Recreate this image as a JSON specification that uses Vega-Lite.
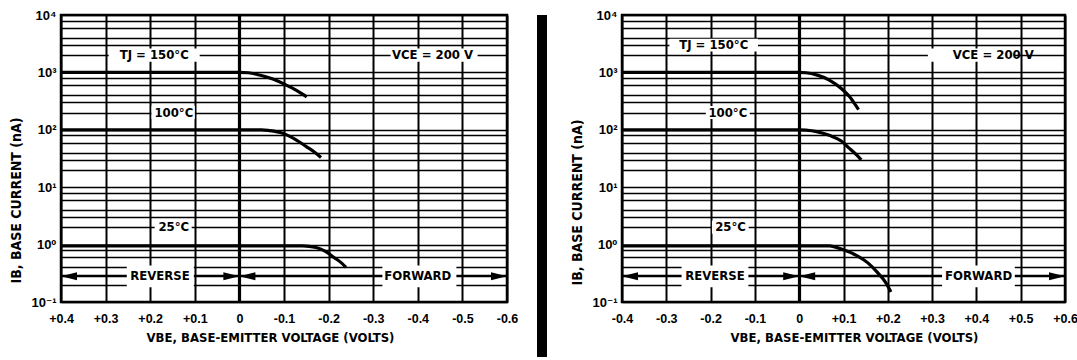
{
  "$schema": "https://vega.github.io/schema/vega-lite/v6.json",
  "padding": {"left": 7, "top": 7, "right": 0, "bottom": 0},
  "background": "white",
  "datasets": {
    "leftCurves": [
      {"s":"150","v":0.4,"i":1000},{"s":"150","v":0.2,"i":1000},{"s":"150","v":0,"i":1000},{"s":"150","v":-0.02,"i":985},{"s":"150","v":-0.045,"i":900},{"s":"150","v":-0.075,"i":765},{"s":"150","v":-0.105,"i":600},{"s":"150","v":-0.127,"i":490},{"s":"150","v":-0.151,"i":375},
      {"s":"100","v":0.4,"i":100},{"s":"100","v":0,"i":100},{"s":"100","v":-0.05,"i":100},{"s":"100","v":-0.067,"i":97},{"s":"100","v":-0.097,"i":87},{"s":"100","v":-0.127,"i":67},{"s":"100","v":-0.15,"i":51},{"s":"100","v":-0.168,"i":41},{"s":"100","v":-0.183,"i":33},
      {"s":"25","v":0.4,"i":0.95},{"s":"25","v":0,"i":0.95},{"s":"25","v":-0.142,"i":0.95},{"s":"25","v":-0.172,"i":0.89},{"s":"25","v":-0.194,"i":0.755},{"s":"25","v":-0.213,"i":0.59},{"s":"25","v":-0.228,"i":0.485},{"s":"25","v":-0.239,"i":0.4}
    ],
    "rightCurves": [
      {"s":"150","v":-0.4,"i":1000},{"s":"150","v":0,"i":1000},{"s":"150","v":0.015,"i":985},{"s":"150","v":0.039,"i":905},{"s":"150","v":0.068,"i":735},{"s":"150","v":0.095,"i":525},{"s":"150","v":0.114,"i":375},{"s":"150","v":0.125,"i":285},{"s":"150","v":0.134,"i":225},
      {"s":"100","v":-0.4,"i":100},{"s":"100","v":0,"i":100},{"s":"100","v":0.015,"i":98.5},{"s":"100","v":0.039,"i":93},{"s":"100","v":0.068,"i":80},{"s":"100","v":0.095,"i":64},{"s":"100","v":0.114,"i":47},{"s":"100","v":0.129,"i":37},{"s":"100","v":0.14,"i":30},
      {"s":"25","v":-0.4,"i":0.95},{"s":"25","v":0,"i":0.95},{"s":"25","v":0.068,"i":0.95},{"s":"25","v":0.098,"i":0.82},{"s":"25","v":0.129,"i":0.65},{"s":"25","v":0.155,"i":0.48},{"s":"25","v":0.177,"i":0.325},{"s":"25","v":0.195,"i":0.22},{"s":"25","v":0.207,"i":0.15}
    ],
    "leftLabels": [
      {"t":"TJ = 150°C","v":0.191,"i":2000,"x1":0.293,"x2":0.089,"y1":1540,"y2":2600},
      {"t":"VCE = 200 V","v":-0.433,"i":2000,"x1":-0.339,"x2":-0.534,"y1":1540,"y2":2600},
      {"t":"100°C","v":0.147,"i":200,"x1":0.197,"x2":0.1,"y1":154,"y2":260},
      {"t":"25°C","v":0.147,"i":2,"x1":0.19,"x2":0.107,"y1":1.54,"y2":2.6},
      {"t":"REVERSE","v":0.178,"i":0.28,"x1":0.2525,"x2":0.1022,"y1":0.18,"y2":0.434},
      {"t":"FORWARD","v":-0.4,"i":0.28,"x1":-0.3206,"x2":-0.4865,"y1":0.18,"y2":0.434}
    ],
    "rightLabels": [
      {"t":"TJ = 150°C","v":-0.193,"i":3000,"x1":-0.293,"x2":-0.093,"y1":2310,"y2":3850},
      {"t":"VCE = 200 V","v":0.438,"i":2000,"x1":0.2905,"x2":0.4855,"y1":1540,"y2":2600},
      {"t":"100°C","v":-0.161,"i":200,"x1":-0.2108,"x2":-0.1117,"y1":154,"y2":260},
      {"t":"25°C","v":-0.155,"i":2,"x1":-0.197,"x2":-0.114,"y1":1.54,"y2":2.6},
      {"t":"REVERSE","v":-0.19,"i":0.28,"x1":-0.2656,"x2":-0.1147,"y1":0.18,"y2":0.434},
      {"t":"FORWARD","v":0.405,"i":0.28,"x1":0.3225,"x2":0.4867,"y1":0.18,"y2":0.434}
    ],
    "leftArrowLines": [
      {"v":0.4,"v2":0,"i":0.28},{"v":0,"v2":-0.6,"i":0.28}
    ],
    "rightArrowLines": [
      {"v":-0.4,"v2":0,"i":0.28},{"v":0,"v2":0.6,"i":0.28}
    ],
    "leftHeads": [
      {"v":0.4,"i":0.28,"dir":"L"},{"v":0,"i":0.28,"dir":"R"},{"v":0,"i":0.28,"dir":"L"},{"v":-0.6,"i":0.28,"dir":"R"}
    ],
    "rightHeads": [
      {"v":-0.4,"i":0.28,"dir":"L"},{"v":0,"i":0.28,"dir":"R"},{"v":0,"i":0.28,"dir":"L"},{"v":0.6,"i":0.28,"dir":"R"}
    ]
  },
  "spacing": 17,
  "hconcat": [
    {
      "width": 446,
      "height": 287,
      "encoding": {
        "x": {"field":"v","type":"quantitative",
          "scale":{"domain":[-0.6,0.4],"reverse":true,"nice":false,"zero":false},
          "axis":{"title":"VBE, BASE-EMITTER VOLTAGE (VOLTS)","titleX":209,
            "values":[-0.6,-0.5,-0.4,-0.3,-0.2,-0.1,0,0.1,0.2,0.3,0.4],
            "labelExpr":"datum.value > 0.001 ? '+' + format(datum.value, '.1f') : (datum.value < -0.001 ? '-' + format(-datum.value, '.1f') : '0')",
            "gridWidth":{"condition":{"test":"abs(datum.value) < 0.001","value":3.2},"value":2}}},
        "y": {"field":"i","type":"quantitative",
          "scale":{"type":"log","domain":[0.1,10000],"nice":false},
          "axis":{"title":"IB, BASE CURRENT (nA)","titleY":185,
            "values":[0.1,0.2,0.3,0.4,0.6,0.8,1,2,3,4,6,8,10,20,30,40,60,80,100,200,300,400,600,800,1000,2000,3000,4000,6000,8000,10000],
            "labelExpr":"abs(log(datum.value)/LN10 - round(log(datum.value)/LN10)) < 0.01 ? '10' + ['⁻¹','⁰','¹','²','³','⁴'][round(log(datum.value)/LN10) + 1] : ''"}}
      },
      "layer": [
        {"data":{"name":"leftArrowLines"},"mark":{"type":"rule","color":"black","strokeWidth":2},
         "encoding":{"x2":{"field":"v2"}}},
        {"data":{"name":"leftLabels"},"mark":{"type":"rect","color":"white"},
         "encoding":{"x":{"field":"x1","type":"quantitative"},"x2":{"field":"x2"},"y":{"field":"y1","type":"quantitative"},"y2":{"field":"y2"}}},
        {"data":{"name":"leftLabels"},"mark":{"type":"text","color":"black","fontSize":13,"fontWeight":"bold","align":"center","baseline":"middle"},
         "encoding":{"text":{"field":"t"}}},
        {"data":{"name":"leftCurves"},"mark":{"type":"line","color":"black","strokeWidth":3.2,"interpolate":"monotone"},
         "encoding":{"detail":{"field":"s"},"order":{"field":"v","sort":"descending"}}},
        {"data":{"name":"leftHeads"},"mark":{"type":"point","filled":true,"color":"black","size":256,"opacity":1,"strokeWidth":0},
         "encoding":{"shape":{"field":"dir","type":"nominal","legend":null,
           "scale":{"domain":["L","R"],"range":["M0,0L2,-0.5L2,0.5Z","M0,0L-2,-0.5L-2,0.5Z"]}}}}
      ]
    },
    {
      "spacing": 21,
      "hconcat": [
        {
          "width": 10,
          "height": 342,
          "data": {"values": []},
          "mark": "point",
          "view": {"fill": "black", "stroke": null}
        },
        {
          "width": 443,
          "height": 287,
          "encoding": {
            "x": {"field":"v","type":"quantitative",
              "scale":{"domain":[-0.4,0.6],"nice":false,"zero":false},
              "axis":{"title":"VBE, BASE-EMITTER VOLTAGE (VOLTS)","titleX":232,
                "values":[-0.4,-0.3,-0.2,-0.1,0,0.1,0.2,0.3,0.4,0.5,0.6],
                "labelExpr":"datum.value > 0.001 ? '+' + format(datum.value, '.1f') : (datum.value < -0.001 ? '-' + format(-datum.value, '.1f') : '0')",
                "gridWidth":{"condition":{"test":"abs(datum.value) < 0.001","value":3.2},"value":2}}},
            "y": {"field":"i","type":"quantitative",
              "scale":{"type":"log","domain":[0.1,10000],"nice":false},
              "axis":{"title":"IB, BASE CURRENT (nA)","titleY":187,
                "values":[0.1,0.2,0.3,0.4,0.6,0.8,1,2,3,4,6,8,10,20,30,40,60,80,100,200,300,400,600,800,1000,2000,3000,4000,6000,8000,10000],
                "labelExpr":"abs(log(datum.value)/LN10 - round(log(datum.value)/LN10)) < 0.01 ? '10' + ['⁻¹','⁰','¹','²','³','⁴'][round(log(datum.value)/LN10) + 1] : ''"}}
          },
          "layer": [
            {"data":{"name":"rightArrowLines"},"mark":{"type":"rule","color":"black","strokeWidth":2},
             "encoding":{"x2":{"field":"v2"}}},
            {"data":{"name":"rightLabels"},"mark":{"type":"rect","color":"white"},
             "encoding":{"x":{"field":"x1","type":"quantitative"},"x2":{"field":"x2"},"y":{"field":"y1","type":"quantitative"},"y2":{"field":"y2"}}},
            {"data":{"name":"rightLabels"},"mark":{"type":"text","color":"black","fontSize":13,"fontWeight":"bold","align":"center","baseline":"middle"},
             "encoding":{"text":{"field":"t"}}},
            {"data":{"name":"rightCurves"},"mark":{"type":"line","color":"black","strokeWidth":3.2,"interpolate":"monotone"},
             "encoding":{"detail":{"field":"s"},"order":{"field":"v","sort":"ascending"}}},
            {"data":{"name":"rightHeads"},"mark":{"type":"point","filled":true,"color":"black","size":256,"opacity":1,"strokeWidth":0},
             "encoding":{"shape":{"field":"dir","type":"nominal","legend":null,
               "scale":{"domain":["L","R"],"range":["M0,0L2,-0.5L2,0.5Z","M0,0L-2,-0.5L-2,0.5Z"]}}}}
          ]
        }
      ]
    }
  ],
  "config": {
    "font": "DejaVu Sans Condensed, Liberation Sans, sans-serif",
    "view": {"stroke": "black", "strokeWidth": 2.5},
    "text": {"font": "DejaVu Sans Condensed, Liberation Sans, sans-serif"},
    "axis": {
      "grid": true, "gridColor": "black", "gridOpacity": 1, "gridWidth": 1.5,
      "domain": false, "ticks": false,
      "labelFont": "Liberation Sans, DejaVu Sans Condensed, sans-serif", "labelFontSize": 13, "labelFontWeight": "bold", "labelColor": "black",
      "titleFont": "DejaVu Sans Condensed, Liberation Sans, sans-serif", "titleFontSize": 13, "titleFontWeight": "bold", "titleColor": "black",
      "labelFlush": false, "labelOverlap": false, "labelBound": false
    },
    "axisX": {"labelPadding": 10, "titlePadding": 7, "labelFontSize": 12.5},
    "axisY": {"labelPadding": 5, "titlePadding": 8, "titleFontSize": 14}
  }
}
